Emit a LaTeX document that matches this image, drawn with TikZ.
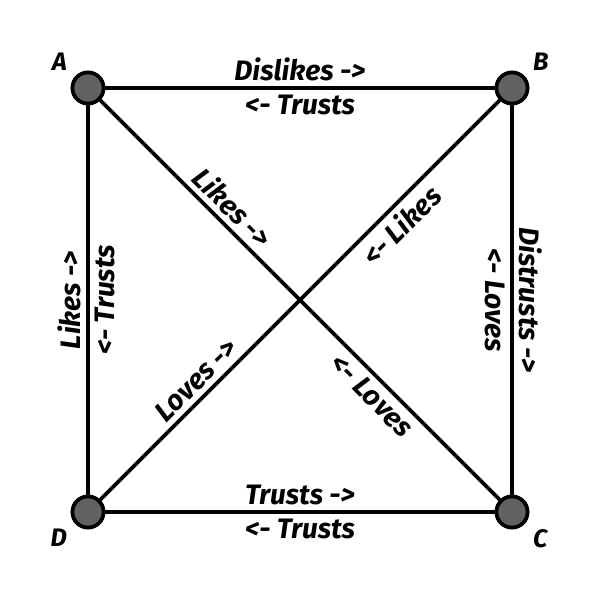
\documentclass[tikz,border=0pt]{standalone}
\usepackage{fontspec}
\setmainfont{Fira Sans}
\usetikzlibrary{positioning}
\begin{document}
\begin{tikzpicture}[line width=2.7pt,node distance=0.1cm]
  \tikzstyle{person}=[circle,draw,fill=black!62,minimum size=0.78cm,inner sep=0pt,line width=2.7pt]
  \tikzstyle{rel}=[font=\fontsize{20}{24}\selectfont\bfseries\itshape,sloped,inner sep=3.5pt]
  \tikzstyle{tag}=[font=\fontsize{18}{21}\selectfont\bfseries\itshape,inner sep=2pt]
  \useasboundingbox (0,0) rectangle (15,15);
  \node[person] (a) at (2.2,12.8) {};
  \node[person] (b) at (12.8,12.8) {};
  \node[person] (c) at (12.8,2.2) {};
  \node[person] (d) at (2.2,2.2) {};
  \node[tag,above left=0cm and 0.1cm of a] (la) {A};
  \node[tag,above right=0cm and 0.1cm of b] (lb) {B};
  \node[tag,below right=0cm and 0.1cm of c] (lc) {C};
  \node[tag,below left=0cm and 0.1cm of d] (ld) {D};

  \draw (a) -- node[rel,above] {Dislikes ->} node[rel,below] {<- Trusts} (b);
  \draw (d) -- node[rel,above] {Trusts ->} node[rel,below] {<- Trusts} (c);
  \draw (d) -- node[rel,above] {Likes ->} node[rel,below] {<- Trusts} (a);
  \draw (b) -- node[rel,above] {Distrusts ->} node[rel,below] {<- Loves} (c);
  \draw (a) -- node[rel,above,pos=0.3] {Likes ->} node[rel,below,pos=0.71] {<- Loves} (c);
  \draw (d) -- node[rel,above,pos=0.27] {Loves ->} node[rel,below,pos=0.72] {<- Likes} (b);
\end{tikzpicture}
\end{document}
